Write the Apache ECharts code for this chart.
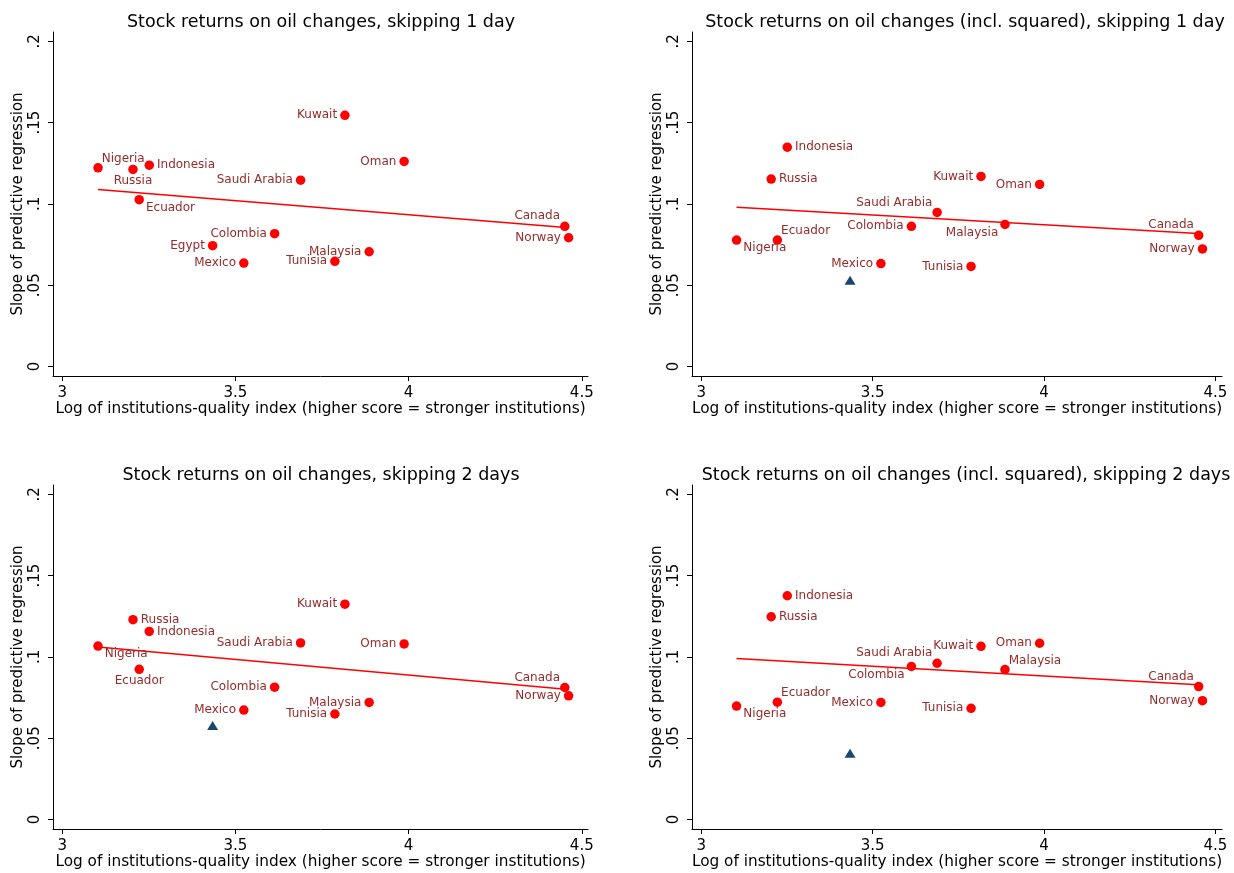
<!DOCTYPE html>
<html>
<head>
<meta charset="utf-8">
<title>Oil-return slopes vs institutions quality</title>
<script src="https://cdn.jsdelivr.net/npm/echarts@6/dist/echarts.min.js"></script>
<style>
  html, body { margin: 0; padding: 0; background: #ffffff; }
  #chart { width: 1234px; height: 873px; }
</style>
</head>
<body>
<div id="chart"></div>
<script>
// ---- Data ---------------------------------------------------------------
const countries = ['Nigeria', 'Russia', 'Ecuador', 'Indonesia', 'Egypt', 'Mexico', 'Colombia',
  'Saudi Arabia', 'Tunisia', 'Kuwait', 'Malaysia', 'Oman', 'Canada', 'Norway'];

// Log of institutions-quality index (same for every panel)
const instIndex = [3.103, 3.204, 3.222, 3.251, 3.434, 3.524, 3.613,
  3.688, 3.787, 3.816, 3.886, 3.987, 4.451, 4.462];

// Slope of predictive regression, one array per specification
const slopeSkip1   = [0.1222, 0.1212, 0.1026, 0.1238, 0.0743, 0.0636, 0.0817,
  0.1146, 0.0647, 0.1545, 0.0706, 0.1261, 0.0862, 0.0792];
const slopeSkip1Sq = [0.0778, 0.1153, 0.0778, 0.1349, 0.0530, 0.0633, 0.0862,
  0.0948, 0.0616, 0.1169, 0.0874, 0.1120, 0.0807, 0.0723];
const slopeSkip2   = [0.1067, 0.1229, 0.0924, 0.1157, 0.0578, 0.0673, 0.0814,
  0.1086, 0.0649, 0.1324, 0.0720, 0.1080, 0.0812, 0.0761];
const slopeSkip2Sq = [0.0698, 0.1247, 0.0722, 0.1376, 0.0408, 0.0720, 0.0941,
  0.0961, 0.0684, 0.1065, 0.0922, 0.1084, 0.0818, 0.0731];

// Fitted lines (end points over the range of the index)
const fitX        = [3.103, 4.462];
const fitSkip1    = [0.1089, 0.0853];
const fitSkip1Sq  = [0.0979, 0.0817];
const fitSkip2    = [0.1061, 0.0800];
const fitSkip2Sq  = [0.0990, 0.0827];

const panelTitles = [
  'Stock returns on oil changes, skipping 1 day',
  'Stock returns on oil changes (incl. squared), skipping 1 day',
  'Stock returns on oil changes, skipping 2 days',
  'Stock returns on oil changes (incl. squared), skipping 2 days'
];
const xAxisTitle = 'Log of institutions-quality index (higher score = stronger institutions)';
const yAxisTitle = 'Slope of predictive regression';

const xTicks = [3, 3.5, 4, 4.5];
const xTickLabels = ['3', '3.5', '4', '4.5'];
const yTicks = [0, 0.05, 0.1, 0.15, 0.2];
const yTickLabels = ['0', '.05', '.1', '.15', '.2'];

// Country drawn with a separate triangle marker (no label) in some panels
const highlighted = 'Egypt';

// ---- Panel setup --------------------------------------------------------
// clock positions for the marker labels, per panel
const labelClock = [
  { Nigeria: 1, Russia: 6, Ecuador: 5, Indonesia: 3, Egypt: 9, Mexico: 9, Colombia: 9,
    'Saudi Arabia': 9, Tunisia: 9, Kuwait: 9, Malaysia: 9, Oman: 9, Canada: 11, Norway: 9 },
  { Nigeria: 5, Russia: 3, Ecuador: 1, Indonesia: 3, Mexico: 9, Colombia: 9,
    'Saudi Arabia': 11, Tunisia: 9, Kuwait: 9, Malaysia: 7, Oman: 9, Canada: 11, Norway: 9 },
  { Nigeria: 5, Russia: 3, Ecuador: 6, Indonesia: 3, Mexico: 9, Colombia: 9,
    'Saudi Arabia': 9, Tunisia: 9, Kuwait: 9, Malaysia: 9, Oman: 9, Canada: 11, Norway: 9 },
  { Nigeria: 5, Russia: 3, Ecuador: 1, Indonesia: 3, Mexico: 9, Colombia: 7,
    'Saudi Arabia': 11, Tunisia: 9, Kuwait: 9, Malaysia: 1, Oman: 9, Canada: 11, Norway: 9 }
];

const panels = [
  { slopes: slopeSkip1,   fit: fitSkip1,   triangle: false },
  { slopes: slopeSkip1Sq, fit: fitSkip1Sq, triangle: true },
  { slopes: slopeSkip2,   fit: fitSkip2,   triangle: true },
  { slopes: slopeSkip2Sq, fit: fitSkip2Sq, triangle: true }
];

const grids = [
  { left: 53,  top: 32,  width: 535, height: 344 },
  { left: 692, top: 32,  width: 530, height: 344 },
  { left: 53,  top: 485, width: 535, height: 344 },
  { left: 692, top: 485, width: 530, height: 344 }
];
const xRange = [[2.973, 4.518], [2.973, 4.519], [2.973, 4.518], [2.973, 4.519]];
const titleCenters = [[316, 8], [960, 8], [316, 461], [961, 461]];

const FONT = 'DejaVu Sans';
const RED = '#ff0000';
const LABEL_RED = '#952b2b';
const NAVY = '#1a476f';

function labelFor(clock) {
  const base = { show: true, fontFamily: FONT, fontSize: 12, color: LABEL_RED, distance: 0 };
  switch (clock) {
    case 3:  return Object.assign(base, { position: 'right', offset: [3, 0] });
    case 9:  return Object.assign(base, { position: 'left', offset: [-3, 0] });
    case 1:  return Object.assign(base, { position: 'right', offset: [-1, -9] });
    case 5:  return Object.assign(base, { position: 'right', offset: [2, 8] });
    case 11: return Object.assign(base, { position: 'left', offset: [0, -10] });
    case 7:  return Object.assign(base, { position: 'left', offset: [-2, 8] });
    case 6:  return Object.assign(base, { position: 'bottom', offset: [0, 1] });
    default: return Object.assign(base, { position: 'top' });
  }
}

const option = {
  animation: false,
  backgroundColor: '#ffffff',
  title: panelTitles.map((t, i) => ({
    text: t,
    left: titleCenters[i][0],
    top: titleCenters[i][1],
    textAlign: 'center',
    textStyle: { fontFamily: FONT, fontSize: 17.5, fontWeight: 'normal', color: '#000' }
  })),
  grid: grids,
  xAxis: grids.map((g, i) => ({
    type: 'value',
    gridIndex: i,
    min: xRange[i][0],
    max: xRange[i][1],
    name: xAxisTitle,
    nameLocation: 'middle',
    nameGap: 26,
    nameTextStyle: { fontFamily: FONT, fontSize: 15.3, color: '#000' },
    axisLine: { show: true, onZero: false, lineStyle: { color: '#000', width: 1 } },
    axisTick: { show: true, inside: false, length: 5, customValues: xTicks,
      lineStyle: { color: '#000', width: 1 } },
    axisLabel: { customValues: xTicks, margin: 10, fontFamily: FONT, fontSize: 15, color: '#000',
      formatter: v => xTickLabels[xTicks.findIndex(t => Math.abs(t - v) < 1e-9)] },
    splitLine: { show: false }
  })),
  yAxis: grids.map((g, i) => ({
    type: 'value',
    gridIndex: i,
    min: -0.0058,
    max: 0.2057,
    name: yAxisTitle,
    nameLocation: 'middle',
    nameRotate: 90,
    nameGap: 27,
    nameTextStyle: { fontFamily: FONT, fontSize: 15, color: '#000' },
    axisLine: { show: true, onZero: false, lineStyle: { color: '#000', width: 1 } },
    axisTick: { show: true, inside: false, length: 5, customValues: yTicks,
      lineStyle: { color: '#000', width: 1 } },
    axisLabel: { customValues: yTicks, rotate: 90, margin: 10, fontFamily: FONT, fontSize: 15,
      color: '#000',
      formatter: v => yTickLabels[yTicks.findIndex(t => Math.abs(t - v) < 1e-9)] },
    splitLine: { show: false }
  })),
  series: []
};

panels.forEach((p, i) => {
  const circles = [];
  const triangles = [];
  countries.forEach((c, k) => {
    const pt = [instIndex[k], p.slopes[k]];
    if (p.triangle && c === highlighted) {
      triangles.push({ value: pt, name: c });
    } else {
      circles.push({ value: pt, name: c, label: Object.assign(labelFor(labelClock[i][c]), { formatter: c }) });
    }
  });

  option.series.push({
    type: 'line',
    xAxisIndex: i,
    yAxisIndex: i,
    data: fitX.map((x, k) => [x, p.fit[k]]),
    showSymbol: false,
    symbol: 'none',
    lineStyle: { color: RED, width: 1.5, opacity: 1 },
    silent: true,
    z: 2
  });
  option.series.push({
    type: 'scatter',
    xAxisIndex: i,
    yAxisIndex: i,
    data: circles,
    symbol: 'circle',
    symbolSize: 9.5,
    itemStyle: { color: RED, opacity: 1 },
    z: 3
  });
  if (triangles.length) {
    option.series.push({
      type: 'scatter',
      xAxisIndex: i,
      yAxisIndex: i,
      data: triangles,
      symbol: 'triangle',
      symbolSize: [11, 9],
      itemStyle: { color: NAVY, opacity: 1 },
      z: 3
    });
  }
});

const chart = echarts.init(document.getElementById('chart'), null, { renderer: 'canvas' });
chart.setOption(option);
</script>
</body>
</html>
